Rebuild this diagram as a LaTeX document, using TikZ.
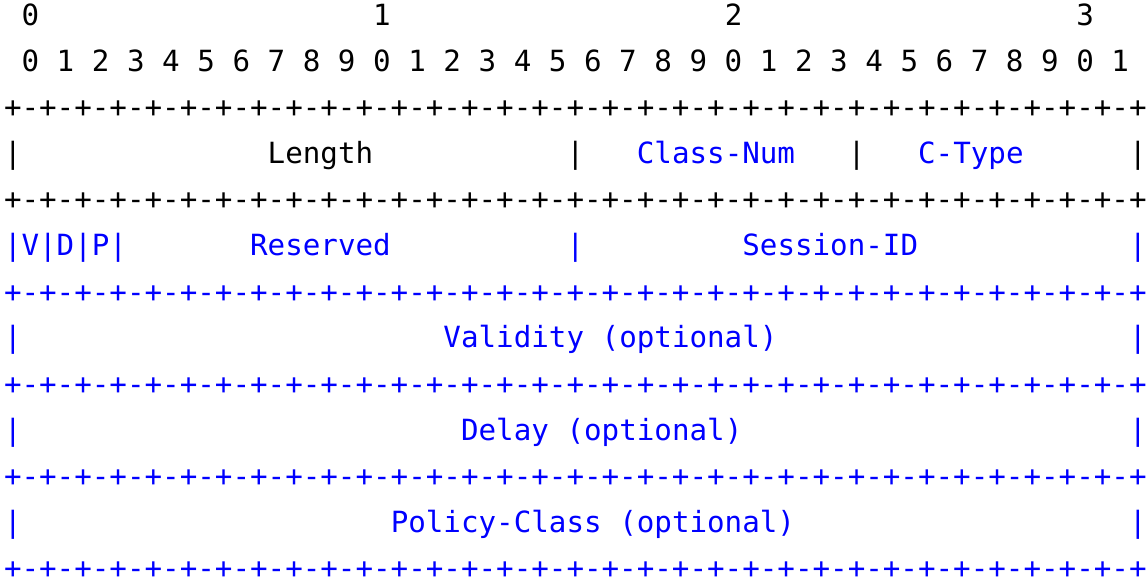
\documentclass[tikz,border=0pt]{standalone}
\usepackage{fontspec}
\usepackage{tikz,xcolor}
\setmonofont{DejaVu Sans Mono}

\definecolor{fieldblue}{RGB}{0,0,255}
\newcommand\blanks[1]{\hskip#1\fontcharwd\font`0\relax}
\newcommand\octet{+-+-+-+-+-+-+-+-}
\newcommand\bitrule{\octet\octet\octet\octet+}

\begin{document}
\begin{tikzpicture}[x=0.75pt,y=0.75pt,yscale=-1,xscale=1,
    asciirow/.style={anchor=base west,inner sep=0pt,outer sep=0pt,font=\ttfamily\fontsize{21.9}{34.5}\selectfont},
    bluerow/.style={asciirow,text=fieldblue}]
    %set diagram left start at 0, and has height of 581
    \path [use as bounding box] (0,0) rectangle (1147,581);

    % Text Node
    \node (hdr) [asciirow] at (4,26) {\blanks{1}0\blanks{19}1\blanks{19}2\blanks{19}3};
    % Text Node
    \node (bits) [asciirow] at (4,72) {\blanks{1}0 1 2 3 4 5 6 7 8 9 0 1 2 3 4 5 6 7 8 9 0 1 2 3 4 5 6 7 8 9 0 1};
    % Text Node
    \node (rule1) [asciirow] at (4,118) {\bitrule};
    % Text Node
    \node (lenrow) [asciirow] at (4,164) {|\blanks{14}Length\blanks{11}|\blanks{3}\textcolor{fieldblue}{Class-Num}\blanks{3}|\blanks{3}\textcolor{fieldblue}{C-Type}\blanks{6}|};
    % Text Node
    \node (rule2) [asciirow] at (4,210) {\bitrule};
    % Text Node
    \node (flagrow) [bluerow] at (4,256) {|V|D|P|\blanks{7}Reserved\blanks{10}|\blanks{9}Session-ID\blanks{12}|};
    % Text Node
    \node (rule3) [bluerow] at (4,302) {\bitrule};
    % Text Node
    \node (validrow) [bluerow] at (4,348) {|\blanks{24}Validity (optional)\blanks{20}|};
    % Text Node
    \node (rule4) [bluerow] at (4,394) {\bitrule};
    % Text Node
    \node (delayrow) [bluerow] at (4,440) {|\blanks{25}Delay (optional)\blanks{22}|};
    % Text Node
    \node (rule5) [bluerow] at (4,486) {\bitrule};
    % Text Node
    \node (policyrow) [bluerow] at (4,532) {|\blanks{21}Policy-Class (optional)\blanks{19}|};
    % Text Node
    \node (rule6) [bluerow] at (4,578) {\bitrule};
\end{tikzpicture}
\end{document}
